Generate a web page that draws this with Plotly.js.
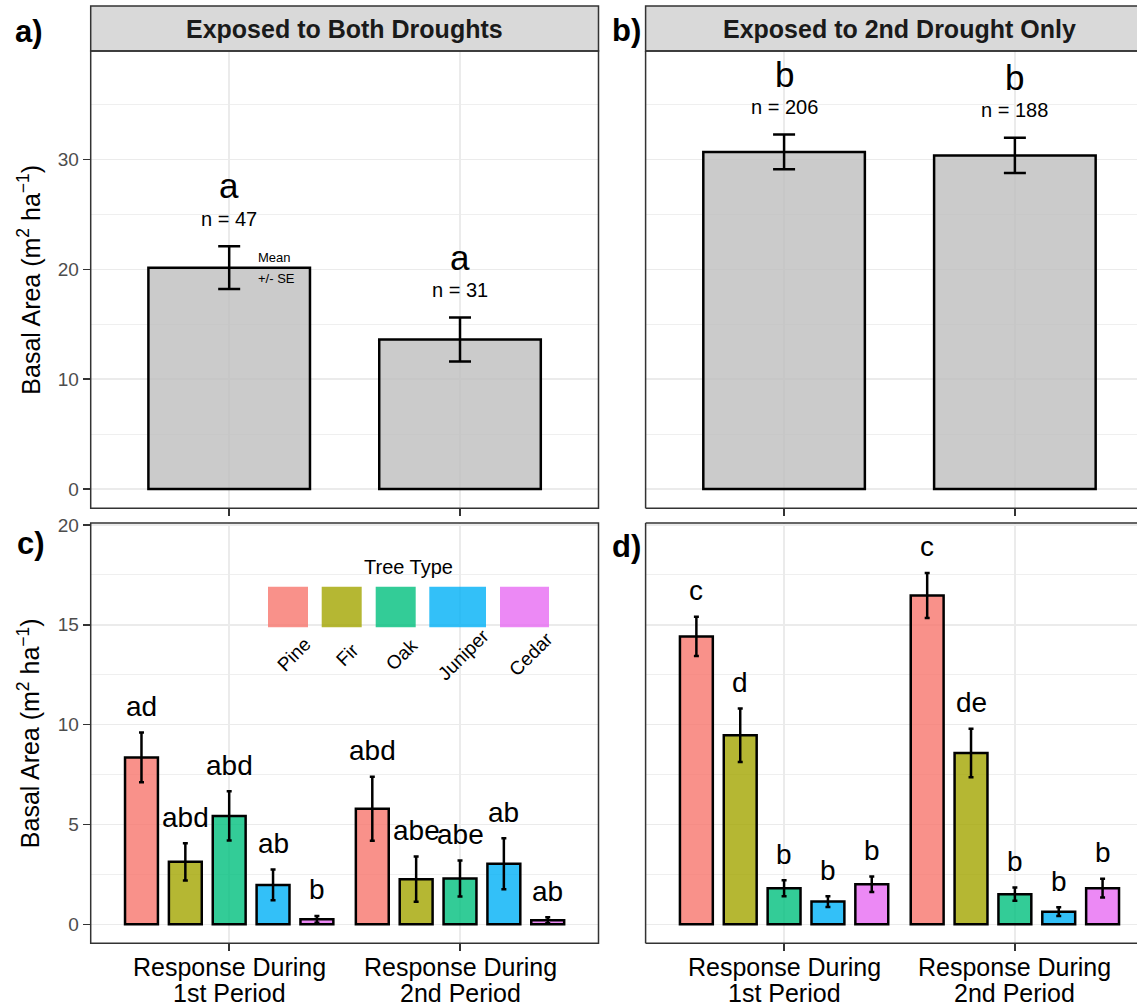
<!DOCTYPE html>
<html><head><meta charset="utf-8">
<script src="https://cdn.plot.ly/plotly-3.0.1.min.js"></script>
<style>html,body{margin:0;padding:0;background:#fff}#chart{width:1137px;height:1007px}</style>
</head><body><div id="chart"></div>
<script>
// ---------------- DATA ----------------
const categories = ["Response During<br>1st Period", "Response During<br>2nd Period"];
const stripTitles = ["Exposed to Both Droughts", "Exposed to 2nd Drought Only"];
const panelTags = ["a)", "b)", "c)", "d)"];
const yTitle = "Basal Area (m<sup>2</sup> ha<sup>\u22121</sup>)";
const legendTitle = "Tree Type";
const treeTypes = ["Pine", "Fir", "Oak", "Juniper", "Cedar"];
const treeColors = ["rgba(248,118,109,0.8)", "rgba(163,165,0,0.8)", "rgba(0,191,125,0.8)", "rgba(0,176,246,0.8)", "rgba(231,107,243,0.8)"];

// panel a / b (all trees)
const bothMean = [20.16, 13.62];
const bothSE = [1.95, 2.00];
const bothLetters = ["a", "a"];
const bothN = [47, 31];
const secondMean = [30.70, 30.38];
const secondSE = [1.58, 1.61];
const secondLetters = ["b", "b"];
const secondN = [206, 188];

// panel c (exposed to both droughts), by tree type
const bothPineMean = [8.36, 5.79], bothPineSE = [1.25, 1.60], bothPineLetters = ["ad", "abd"];
const bothFirMean = [3.13, 2.26], bothFirSE = [0.93, 1.13], bothFirLetters = ["abd", "abe"];
const bothOakMean = [5.43, 2.29], bothOakSE = [1.23, 0.90], bothOakLetters = ["abd", "abe"];
const bothJuniperMean = [1.97, 3.03], bothJuniperSE = [0.77, 1.28], bothJuniperLetters = ["ab", "ab"];
const bothCedarMean = [0.25, 0.20], bothCedarSE = [0.17, 0.15], bothCedarLetters = ["b", "ab"];

// panel d (exposed to 2nd drought only), by tree type
const secondPineMean = [14.42, 16.47], secondPineSE = [0.98, 1.13], secondPineLetters = ["c", "c"];
const secondFirMean = [9.47, 8.58], secondFirSE = [1.34, 1.22], secondFirLetters = ["d", "de"];
const secondOakMean = [1.81, 1.51], secondOakSE = [0.40, 0.33], secondOakLetters = ["b", "b"];
const secondJuniperMean = [1.14, 0.63], secondJuniperSE = [0.27, 0.22], secondJuniperLetters = ["b", "b"];
const secondCedarMean = [2.01, 1.81], secondCedarSE = [0.39, 0.47], secondCedarLetters = ["b", "b"];

// ---------------- LAYOUT CONSTANTS ----------------
const W = 1137, H = 1007;
const FONT = "Liberation Sans, Arial, Helvetica, sans-serif";
const px = v => v / W, py = v => 1 - v / H;
const xA = [90.7, 598.5], xB = [645.6, W];
const yTop = [51, 508.3], yBot = [523, 943.3], yStrip = [6, 51];
const unitPx = 230.8;
const xRangeA = [-0.6, 1.6];
const xRangeB = [-0.6, -0.6 + (xB[1] - xB[0]) / unitPx];
const BARGAP = 0.05, GROUPGAP = 0.25;

const bothTree = [
  [bothPineMean, bothPineSE, bothPineLetters],
  [bothFirMean, bothFirSE, bothFirLetters],
  [bothOakMean, bothOakSE, bothOakLetters],
  [bothJuniperMean, bothJuniperSE, bothJuniperLetters],
  [bothCedarMean, bothCedarSE, bothCedarLetters]];
const secondTree = [
  [secondPineMean, secondPineSE, secondPineLetters],
  [secondFirMean, secondFirSE, secondFirLetters],
  [secondOakMean, secondOakSE, secondOakLetters],
  [secondJuniperMean, secondJuniperSE, secondJuniperLetters],
  [secondCedarMean, secondCedarSE, secondCedarLetters]];

const traces = [];
const annotations = [];
const shapes = [];

function greyBar(mean, se, xa, ya) {
  traces.push({
    type: "bar", x: categories, y: mean, width: 0.7, xaxis: xa, yaxis: ya,
    marker: {color: "rgba(190,190,190,0.8)", line: {color: "#000", width: 2.5}},
    error_y: {type: "data", array: se, visible: true, color: "#000", thickness: 2.5, width: 11},
    showlegend: false, hoverinfo: "skip"
  });
}
greyBar(bothMean, bothSE, "x", "y");
greyBar(secondMean, secondSE, "x2", "y2");

function topLabels(mean, se, letters, ns, xa, ya) {
  mean.forEach((m, i) => {
    const top = m + se[i];
    annotations.push({xref: xa, yref: ya, x: i, y: top + 5.5, text: letters[i], showarrow: false,
      font: {family: FONT, size: 35, color: "#000"}, xanchor: "center", yanchor: "middle"});
    annotations.push({xref: xa, yref: ya, x: i, y: top + 2.5, text: "n = " + ns[i], showarrow: false,
      font: {family: FONT, size: 20, color: "#000"}, xanchor: "center", yanchor: "middle"});
  });
}
topLabels(bothMean, bothSE, bothLetters, bothN, "x", "y");
topLabels(secondMean, secondSE, secondLetters, secondN, "x2", "y2");

// Mean +/- SE note
annotations.push({xref: "x", yref: "y", x: 0.116, y: 21.07, text: "Mean", showarrow: false,
  font: {family: FONT, size: 13, color: "#000"}, xanchor: "left", yanchor: "middle"});
annotations.push({xref: "x", yref: "y", x: 0.116, y: 19.2, text: "+/- SE", showarrow: false,
  font: {family: FONT, size: 13, color: "#000"}, xanchor: "left", yanchor: "middle"});

function treeBars(tree, xa, ya) {
  const slot = (1 - BARGAP) / treeTypes.length;
  tree.forEach((t, j) => {
    const [mean, se, letters] = t;
    traces.push({
      type: "bar", x: categories, y: mean, xaxis: xa, yaxis: ya, name: treeTypes[j],
      marker: {color: treeColors[j], line: {color: "#000", width: 2.5}},
      error_y: {type: "data", array: se, visible: true, color: "#000", thickness: 2.5, width: 2.5},
      showlegend: false, hoverinfo: "skip"
    });
    mean.forEach((m, i) => {
      annotations.push({xref: xa, yref: ya, x: i + (j - (treeTypes.length - 1) / 2) * slot,
        y: m + se[i] + 1.3, text: letters[i], showarrow: false,
        font: {family: FONT, size: 28, color: "#000"}, xanchor: "center", yanchor: "middle"});
    });
  });
}
treeBars(bothTree, "x3", "y3");
treeBars(secondTree, "x4", "y4");

// strips
shapes.push({type: "rect", xref: "paper", yref: "paper", x0: px(xA[0]), x1: px(xA[1]), y0: py(yStrip[1]), y1: py(yStrip[0]),
  fillcolor: "#D9D9D9", line: {color: "#333", width: 1.5}, layer: "above"});
shapes.push({type: "rect", xref: "paper", yref: "paper", x0: px(xB[0]), x1: px(xB[0] + 2.2 * unitPx), y0: py(yStrip[1]), y1: py(yStrip[0]),
  fillcolor: "#D9D9D9", line: {color: "#333", width: 1.5}, layer: "above"});
annotations.push({xref: "paper", yref: "paper", x: px((xA[0] + xA[1]) / 2), y: py(29), text: "<b>" + stripTitles[0] + "</b>",
  showarrow: false, font: {family: FONT, size: 25, color: "#1A1A1A"}, xanchor: "center", yanchor: "middle"});
annotations.push({xref: "paper", yref: "paper", x: px(xB[0] + 1.1 * unitPx), y: py(29), text: "<b>" + stripTitles[1] + "</b>",
  showarrow: false, font: {family: FONT, size: 25, color: "#1A1A1A"}, xanchor: "center", yanchor: "middle"});

// panel borders
function rectBorder(x, y) {
  shapes.push({type: "rect", xref: "paper", yref: "paper", x0: px(x[0]), x1: px(x[1]), y0: py(y[1]), y1: py(y[0]),
    line: {color: "#333", width: 1.5}, layer: "above"});
}
function openBorder(x, y) {
  const L = {color: "#333", width: 1.5};
  shapes.push({type: "line", xref: "paper", yref: "paper", x0: px(x[0]), x1: px(x[0]), y0: py(y[1]), y1: py(y[0]), line: L, layer: "above"});
  shapes.push({type: "line", xref: "paper", yref: "paper", x0: px(x[0]), x1: px(x[0] + 2.2 * unitPx), y0: py(y[1]), y1: py(y[1]), line: L, layer: "above"});
  shapes.push({type: "line", xref: "paper", yref: "paper", x0: px(x[0]), x1: px(x[0] + 2.2 * unitPx), y0: py(y[0]), y1: py(y[0]), line: L, layer: "above"});
}
rectBorder(xA, yTop);
openBorder(xB, yTop);
rectBorder(xA, yBot);
openBorder(xB, yBot);

// panel tags
[[29, 31], [626, 30], [31, 543], [626, 546]].forEach((p, k) => {
  annotations.push({xref: "paper", yref: "paper", x: px(p[0]), y: py(p[1]), text: "<b>" + panelTags[k] + "</b>",
    showarrow: false, font: {family: FONT, size: 31, color: "#000"}, xanchor: "center", yanchor: "middle"});
});

// y titles
[(yTop[0] + yTop[1]) / 2, (yBot[0] + yBot[1]) / 2].forEach(c => {
  annotations.push({xref: "paper", yref: "paper", x: px(29), y: py(c), text: yTitle, textangle: -90,
    showarrow: false, font: {family: FONT, size: 25, color: "#000"}, xanchor: "center", yanchor: "middle"});
});

// x tick labels (bottom row), one annotation per line
["x3", "x4"].forEach(xa => {
  categories.forEach((c, i) => {
    c.split("<br>").forEach((line, k) => {
      annotations.push({xref: xa, yref: "paper", x: i, y: py(967 + 26 * k), text: line, showarrow: false,
        font: {family: FONT, size: 25, color: "#000"}, xanchor: "center", yanchor: "middle"});
    });
  });
});

// legend (inside panel c)
annotations.push({xref: "paper", yref: "paper", x: px(408.5), y: py(567), text: legendTitle, showarrow: false,
  font: {family: FONT, size: 20, color: "#000"}, xanchor: "center", yanchor: "middle"});
const keyX = [[268, 308], [321.7, 361.7], [375.7, 415.7], [429.3, 486], [500, 549]];
treeTypes.forEach((t, j) => {
  shapes.push({type: "rect", xref: "paper", yref: "paper", x0: px(keyX[j][0]), x1: px(keyX[j][1]), y0: py(627.3), y1: py(586.7),
    fillcolor: treeColors[j], line: {width: 0}, layer: "above"});
  annotations.push({xref: "paper", yref: "paper", x: px((keyX[j][0] + keyX[j][1]) / 2 + 6), y: py(654.5), text: t, textangle: -45,
    showarrow: false, font: {family: FONT, size: 19, color: "#000"}, xanchor: "center", yanchor: "middle"});
});

// ---------------- AXES ----------------
const GRID = "#EBEBEB";
function xAxis(dom, range, anchor) {
  return {domain: dom, range: range, anchor: anchor, type: "category", categoryarray: categories, categoryorder: "array",
    showgrid: true, gridcolor: GRID, gridwidth: 1.5, zeroline: false, showline: false,
    ticks: "outside", ticklen: 7, tickwidth: 1.5, tickcolor: "#333", showticklabels: false, fixedrange: true};
}
function yAxis(dom, range, dtick, anchor, labels) {
  return {domain: dom, range: range, anchor: anchor, tick0: 0, dtick: dtick,
    showgrid: true, gridcolor: GRID, gridwidth: 1.5, zeroline: false, showline: false,
    minor: {dtick: dtick / 2, tick0: 0, showgrid: true, gridcolor: GRID, gridwidth: 0.8, ticks: ""},
    ticks: labels ? "outside" : "", ticklen: 7, tickwidth: 1.5, tickcolor: "#333",
    showticklabels: labels, tickfont: {family: FONT, size: 19, color: "#4D4D4D"}, fixedrange: true};
}
const domXA = [px(xA[0]), px(xA[1])], domXB = [px(xB[0]), 1];
const domYTop = [py(yTop[1]), py(yTop[0])], domYBot = [py(yBot[1]), py(yBot[0])];
const topPxPerUnit = 10.98, botPxPerUnit = 19.965;
const topRange = [-(yTop[1] - 489) / topPxPerUnit, (489 - yTop[0]) / topPxPerUnit];
const botRange = [-(yBot[1] - 924.3) / botPxPerUnit, (924.3 - yBot[0]) / botPxPerUnit];

const layout = {
  width: W, height: H, margin: {l: 0, r: 0, t: 0, b: 0}, paper_bgcolor: "#fff", plot_bgcolor: "rgba(0,0,0,0)",
  barmode: "group", bargap: BARGAP, bargroupgap: GROUPGAP, showlegend: false,
  font: {family: FONT, color: "#000"},
  xaxis: xAxis(domXA, xRangeA, "y"),
  xaxis2: xAxis(domXB, xRangeB, "y2"),
  xaxis3: xAxis(domXA, xRangeA, "y3"),
  xaxis4: xAxis(domXB, xRangeB, "y4"),
  yaxis: yAxis(domYTop, topRange, 10, "x", true),
  yaxis2: yAxis(domYTop, topRange, 10, "x2", false),
  yaxis3: yAxis(domYBot, botRange, 5, "x3", true),
  yaxis4: yAxis(domYBot, botRange, 5, "x4", false),
  annotations: annotations, shapes: shapes
};
Plotly.newPlot("chart", traces, layout, {displayModeBar: false, staticPlot: true});
</script></body></html>
